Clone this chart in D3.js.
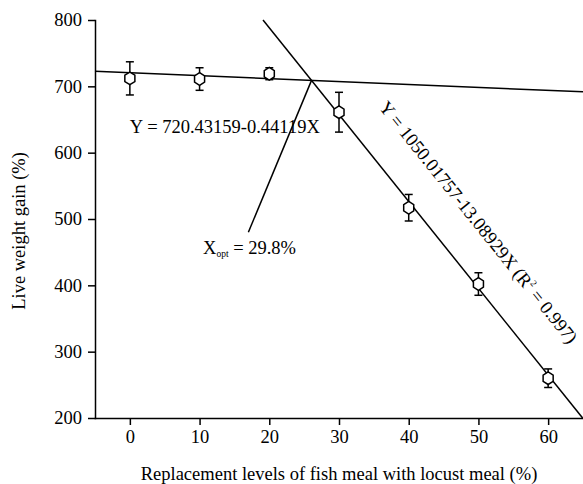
<!DOCTYPE html>
<html>
<head>
<meta charset="utf-8">
<script src="https://cdn.jsdelivr.net/npm/d3@7"></script>
<style>
  body { margin: 0; background: #fff; }
  svg text { font-family: "Liberation Serif", "Times New Roman", serif; fill: #000; }
</style>
</head>
<body>
<svg id="chart" width="583" height="484"></svg>
<script>
'use strict';

// Data
const levels = [0, 10, 20, 30, 40, 50, 60];
const gain = [712, 711, 719, 661, 517, 402, 260];
const sem = [25, 17, 9, 30, 20, 17, 14];
const xTicks = [0, 10, 20, 30, 40, 50, 60];
const yTicks = [200, 300, 400, 500, 600, 700, 800];
const plateauFit = [720.43159, -0.44119];
const declineFit = [1050.01757, -13.08929];
const optPointerEnd = [17, 480];

const fs = 18.5;
const svg = d3.select('#chart');
const x = d3.scaleLinear().domain([-5, 65]).range([95, 583]);
const y = d3.scaleLinear().domain([200, 800]).range([418, 20]);

// Axes
svg.append('g')
    .attr('transform', `translate(0,${y(200)})`)
    .call(d3.axisBottom(x).tickValues(xTicks).tickSize(7).tickPadding(5).tickSizeOuter(0))
    .call(g => g.selectAll('text').attr('font-size', fs).attr('dy', '0.71em'))
    .call(g => g.selectAll('path, line').attr('stroke', '#000').attr('stroke-width', 1.5));

svg.append('g')
    .attr('transform', `translate(${x(-5)},0)`)
    .call(d3.axisLeft(y).tickValues(yTicks).tickSize(7).tickPadding(6).tickSizeOuter(0))
    .call(g => g.selectAll('text').attr('font-size', fs))
    .call(g => g.selectAll('path, line').attr('stroke', '#000').attr('stroke-width', 1.5));

svg.selectAll('.domain').attr('stroke-linecap', 'square');

// Axis titles
svg.append('text')
    .attr('x', (x(-5) + x(65)) / 2)
    .attr('y', 480)
    .attr('text-anchor', 'middle')
    .attr('font-size', fs)
    .text('Replacement levels of fish meal with locust meal (%)');

svg.append('text')
    .attr('transform', `translate(25,${y(482)}) rotate(-90)`)
    .attr('text-anchor', 'middle')
    .attr('font-size', fs)
    .text('Live weight gain (%)');

// Fitted lines
const fit = (c, v) => c[0] + c[1] * v;
const line = d3.line().x(d => x(d[0])).y(d => y(d[1]));

svg.append('path')
    .datum([[-5, fit(plateauFit, -5)], [65, fit(plateauFit, 65)]])
    .attr('d', line)
    .attr('fill', 'none').attr('stroke', '#000').attr('stroke-width', 1.5);

const xTop = (800 - declineFit[0]) / declineFit[1];
svg.append('path')
    .datum([[xTop, 800], [65, fit(declineFit, 65)]])
    .attr('d', line)
    .attr('fill', 'none').attr('stroke', '#000').attr('stroke-width', 1.5);

// Intersection and optimum pointer
const xOpt = (declineFit[0] - plateauFit[0]) / (plateauFit[1] - declineFit[1]);
svg.append('path')
    .datum([[xOpt, fit(plateauFit, xOpt)], optPointerEnd])
    .attr('d', line)
    .attr('fill', 'none').attr('stroke', '#000').attr('stroke-width', 1.5);

// Error bars
const bars = svg.append('g').attr('stroke', '#000').attr('stroke-width', 1.5);
levels.forEach((lv, i) => {
    const cx = x(lv);
    bars.append('line').attr('x1', cx).attr('x2', cx)
        .attr('y1', y(gain[i] + sem[i])).attr('y2', y(gain[i] - sem[i]));
    [gain[i] + sem[i], gain[i] - sem[i]].forEach(v => {
        bars.append('line').attr('x1', cx - 4).attr('x2', cx + 4)
            .attr('y1', y(v)).attr('y2', y(v));
    });
});

// Hexagon markers
const hex = d3.range(6).map(k => {
    const a = Math.PI / 3 * k;
    return [5.8 * Math.sin(a), -6.3 * Math.cos(a)];
});
svg.append('g').selectAll('path')
    .data(levels)
    .join('path')
    .attr('transform', (d, i) => `translate(${x(d)},${y(gain[i])})`)
    .attr('d', 'M' + hex.join('L') + 'Z')
    .attr('fill', '#fff').attr('stroke', '#000').attr('stroke-width', 1.5);

// Annotations
svg.append('text')
    .attr('x', x(0)).attr('y', y(629))
    .attr('font-size', fs)
    .text('Y = 720.43159-0.44119X');

const xo = svg.append('text')
    .attr('x', x(10.5)).attr('y', y(447))
    .attr('font-size', fs);
xo.append('tspan').text('X');
xo.append('tspan').attr('font-size', 9.5).attr('dy', 3).text('opt');
xo.append('tspan').attr('dy', -3).text(' = 29.8%');

const ang = Math.atan2(y(fit(declineFit, 60)) - y(fit(declineFit, 30)), x(60) - x(30)) * 180 / Math.PI;
const ax = 31.7;
const eq2 = svg.append('text')
    .attr('transform', `translate(${x(ax)},${y(fit(declineFit, ax))}) rotate(${ang})`)
    .attr('y', -35)
    .attr('font-size', fs);
eq2.append('tspan').text('Y = 1050.01757-13.08929X (R');
eq2.append('tspan').attr('font-size', 9.5).attr('dy', -8).text('2');
eq2.append('tspan').attr('dy', 8).text(' = 0.997)');
</script>
</body>
</html>
